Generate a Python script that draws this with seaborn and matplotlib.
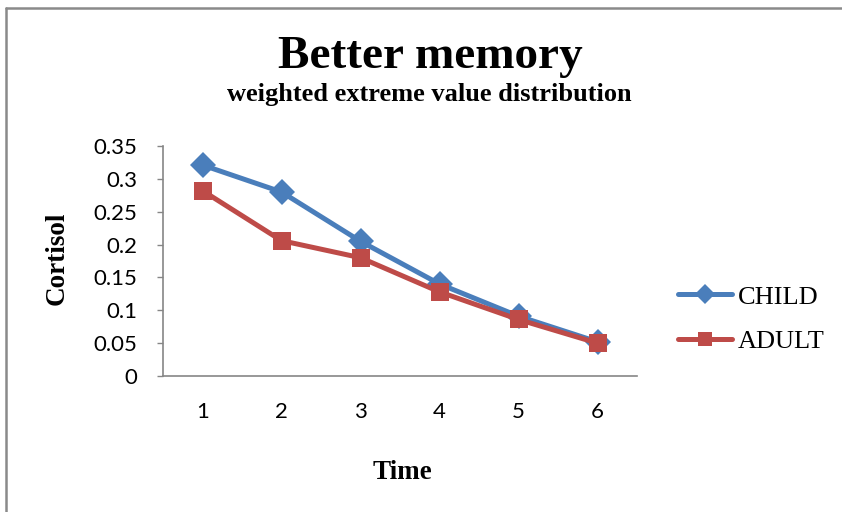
import matplotlib
matplotlib.use("Agg")
import matplotlib.pyplot as plt
from matplotlib.lines import Line2D
import seaborn as sns
import pandas as pd

# Cortisol readings over six time points
time_points = [1, 2, 3, 4, 5, 6]
child = [0.321, 0.280, 0.205, 0.140, 0.091, 0.052]
adult = [0.282, 0.206, 0.180, 0.128, 0.086, 0.050]
series_names = ["CHILD", "ADULT"]
y_ticks = [0, 0.05, 0.1, 0.15, 0.2, 0.25, 0.3, 0.35]
y_tick_labels = ["0", "0.05", "0.1", "0.15", "0.2", "0.25", "0.3", "0.35"]

df = pd.DataFrame({
    "Time": time_points * 2,
    "Cortisol": child + adult,
    "Group": [series_names[0]] * len(child) + [series_names[1]] * len(adult),
})

sns.set_theme(style="white")
plt.rcParams["font.family"] = ["Liberation Serif", "DejaVu Serif"]
plt.rcParams.update({"text.color": "black", "axes.labelcolor": "black",
                     "xtick.color": "black", "ytick.color": "black"})

W, H = 842, 512
fig = plt.figure(figsize=(W / 100, H / 100), dpi=100)
ax = fig.add_axes([163 / W, 1 - 376 / H, (637 - 163) / W, (376 - 146) / H])

blue = "#4A7EBB"
red = "#BE4B48"
sns.lineplot(
    data=df, x="Time", y="Cortisol", hue="Group", style="Group",
    markers={"CHILD": "D", "ADULT": "s"}, dashes=False,
    palette={"CHILD": blue, "ADULT": red},
    linewidth=3.6, markersize=13, markeredgewidth=0, ax=ax, legend=False,
)

ax.set_xlim(0.5, 6.5)
ax.set_ylim(0, 0.35)
ax.set_xticks(time_points)
ax.set_xticklabels([str(t) for t in time_points], fontfamily="Lato", fontsize=16)
ax.set_yticks(y_ticks)
ax.set_yticklabels(y_tick_labels, fontfamily="Lato", fontsize=16)
ax.tick_params(axis="x", length=0, pad=19)
ax.tick_params(axis="y", length=4.5, width=1, color="#868686", pad=14,
               direction="out", left=True)

for side in ["top", "right"]:
    ax.spines[side].set_visible(False)
for side in ["left", "bottom"]:
    ax.spines[side].set_color("#868686")
    ax.spines[side].set_linewidth(1.2)

ax.set_xlabel("Time", fontsize=19.5, fontweight="bold")
ax.set_ylabel("Cortisol", fontsize=19.5, fontweight="bold")
ax.xaxis.set_label_coords((402 - 163) / 474, (376 - 460) / 230)
ax.yaxis.set_label_coords((70 - 163) / 474, (376 - 258) / 230)

fig.text(430 / W, 1 - 68 / H, "Better memory", ha="center", va="baseline",
         fontsize=34, fontweight="bold")
fig.text(429 / W, 1 - 101 / H, "weighted extreme value distribution", ha="center",
         va="baseline", fontsize=19, fontweight="bold")

handles = [
    Line2D([0], [0], color=blue, lw=3.6, marker="D", markersize=10, markeredgewidth=0),
    Line2D([0], [0], color=red, lw=3.6, marker="s", markersize=10, markeredgewidth=0),
]
fig.legend(handles, series_names, loc="center left",
           bbox_to_anchor=(654 / W, 1 - 319 / H), frameon=False,
           fontsize=19, handlelength=2.05, handletextpad=0.23, labelspacing=0.78)

# Outer chart frame (top and left edges)
fig.add_artist(Line2D([6 / W, 6 / W], [0, 1 - 8 / H], color="#8a8a8a", lw=1.8,
                      transform=fig.transFigure))
fig.add_artist(Line2D([6 / W, 1], [1 - 8 / H, 1 - 8 / H], color="#8a8a8a", lw=1.8,
                      transform=fig.transFigure))

fig.savefig("out.png", dpi=100)
